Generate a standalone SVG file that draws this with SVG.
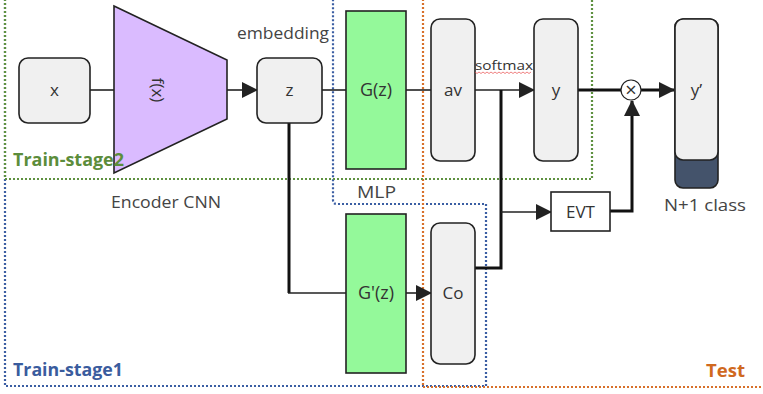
<svg xmlns="http://www.w3.org/2000/svg" width="763" height="394" viewBox="0 0 763 394">
  <defs>
    <marker id="arrow" viewBox="0 0 16 16" refX="15" refY="8" markerWidth="16" markerHeight="16" markerUnits="userSpaceOnUse" orient="auto">
      <path d="M0,0 L16,8 L0,16 Z" fill="#222"/>
    </marker>
    <style>
      text { font-family: "Open Sans", "Noto Sans", sans-serif; fill: #333; }
      .node { fill: #f0f0f0; stroke: #222; stroke-width: 1.6; }
      .mlp { fill: #94f99a; stroke: #222; stroke-width: 1.6; }
      .lbl { font-size: 17px; text-anchor: middle; }
      .cap { font-size: 16px; fill: #444; }
      .thin { fill: none; stroke: #222; stroke-width: 1.6; }
      .thick { fill: none; stroke: #111; stroke-width: 3; }
      .zone { fill: none; stroke-width: 2.2; stroke-dasharray: 2 2; }
      .stage { font-size: 17px; font-weight: bold; }
    </style>
  </defs>

  <!-- stage boundaries -->
  <g id="zones">
    <path class="zone" stroke="#3b5ea3" d="M5,-5 V386 H486 V204 H337 Q333,204 333,200 V-5"/>
    <path class="zone" stroke="#d8702a" d="M423,-5 V387 H768"/>
    <path class="zone" stroke="#5e9140" d="M5,-5 V179 H592 V-5"/>
  </g>

  <!-- connectors -->
  <g id="connectors">
    <path class="thin" d="M90,90 H114"/>
    <path class="thin" d="M227,90 H257" marker-end="url(#arrow)"/>
    <path class="thin" d="M322,90 H346"/>
    <path class="thick" d="M289,123 V293"/>
    <path class="thin" d="M288,293 H346"/>
    <path class="thin" d="M406,90 H431"/>
    <path class="thin" d="M475,90 H534" marker-end="url(#arrow)"/>
    <path class="thick" d="M475,268 H501 V90"/>
    <path class="thin" d="M501,212 H551" marker-end="url(#arrow)"/>
    <path class="thin" d="M406,293 H431" marker-end="url(#arrow)"/>
    <path class="thick" d="M578,90 H621"/>
    <path class="thick" d="M641,90 H674" marker-end="url(#arrow)"/>
    <path class="thick" d="M610,211 H632 V101" marker-end="url(#arrow)"/>
  </g>

  <g id="node-x">
    <rect class="node" x="19" y="58" width="71" height="65" rx="9"/>
    <text class="lbl" x="54.5" y="96">x</text>
  </g>

  <g id="node-encoder">
    <path d="M114,6 L227,60 V119 L114,173 Z" fill="#dabbff" stroke="#222" stroke-width="1.6"/>
    <text class="lbl" transform="translate(152,90) rotate(90)" y="0">f(x)</text>
    <text class="cap" x="111" y="208" textLength="110" lengthAdjust="spacingAndGlyphs">Encoder CNN</text>
  </g>

  <g id="node-z">
    <rect class="node" x="257" y="58" width="65" height="65" rx="9"/>
    <text class="lbl" x="289.5" y="96">z</text>
    <text class="cap" x="237" y="39" textLength="92" lengthAdjust="spacingAndGlyphs">embedding</text>
  </g>

  <g id="node-g">
    <rect class="mlp" x="346" y="11" width="60" height="158"/>
    <text class="lbl" x="376" y="96" style="font-size:18px">G(z)</text>
    <text class="cap" x="357" y="198" textLength="39" lengthAdjust="spacingAndGlyphs">MLP</text>
  </g>

  <g id="node-g2">
    <rect class="mlp" x="346" y="214" width="60" height="159"/>
    <text class="lbl" x="376" y="299" style="font-size:18px">G'(z)</text>
  </g>

  <g id="node-av">
    <rect class="node" x="431" y="19" width="44" height="142" rx="9"/>
    <text class="lbl" x="453" y="96">av</text>
  </g>

  <g id="node-co">
    <rect class="node" x="431" y="223" width="44" height="141" rx="9"/>
    <text class="lbl" x="453" y="299">Co</text>
  </g>

  <g id="softmax-label">
    <text x="475" y="70" style="font-size:13px" textLength="58" lengthAdjust="spacingAndGlyphs">softmax</text>
    <path d="M475,72 l2,1.5 l2,-1.5 l2,1.5 l2,-1.5 l2,1.5 l2,-1.5 l2,1.5 l2,-1.5 l2,1.5 l2,-1.5 l2,1.5 l2,-1.5 l2,1.5 l2,-1.5 l2,1.5 l2,-1.5 l2,1.5 l2,-1.5 l2,1.5 l2,-1.5 l2,1.5 l2,-1.5 l2,1.5 l2,-1.5 l2,1.5 l2,-1.5 l2,1.5 l2,-1.5" fill="none" stroke="#e84b4b" stroke-width="0.7"/>
  </g>

  <g id="node-y">
    <rect class="node" x="534" y="19" width="44" height="142" rx="9"/>
    <text class="lbl" x="556" y="96">y</text>
  </g>

  <g id="node-mul">
    <circle cx="631" cy="90" r="10" fill="#fff" stroke="#222" stroke-width="1.2"/>
    <text x="631" y="96.5" text-anchor="middle" style="font-size:20px">×</text>
  </g>

  <g id="node-evt">
    <rect x="551" y="192" width="59" height="39" fill="#fff" stroke="#222" stroke-width="1.6"/>
    <text class="lbl" x="580.5" y="218">EVT</text>
  </g>

  <g id="node-yprime">
    <rect x="675" y="19" width="43" height="169" rx="8" fill="#44536b" stroke="#222" stroke-width="1.6"/>
    <rect class="node" x="675" y="19" width="43" height="141" rx="8"/>
    <text class="lbl" x="696.5" y="96">y’</text>
    <text class="cap" x="664" y="211" textLength="82" lengthAdjust="spacingAndGlyphs">N+1 class</text>
  </g>

  <g id="stage-labels">
    <text class="stage" x="13" y="166" style="fill:#5c8d3b" textLength="111" lengthAdjust="spacingAndGlyphs">Train-stage2</text>
    <text class="stage" x="13" y="376" style="fill:#3a5c9e" textLength="110" lengthAdjust="spacingAndGlyphs">Train-stage1</text>
    <text class="stage" x="706" y="377" style="fill:#d0691f" textLength="39" lengthAdjust="spacingAndGlyphs">Test</text>
  </g>
</svg>
